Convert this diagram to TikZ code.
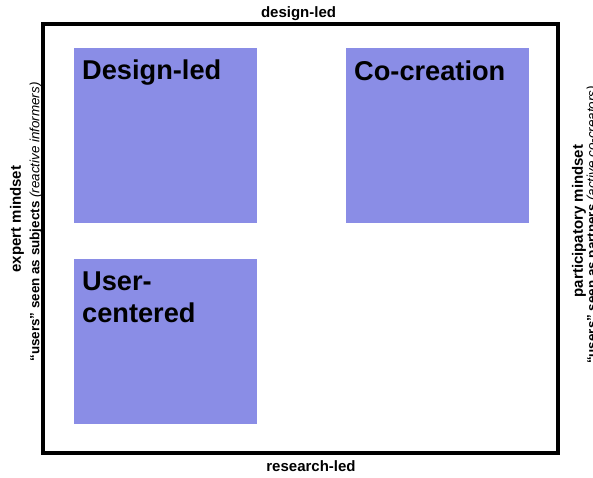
\documentclass[tikz,border=0pt]{standalone}
\usepackage{fontspec}
\setmainfont{Liberation Sans}
\definecolor{quadblue}{RGB}{138,141,230}

\begin{document}
\begin{tikzpicture}[x=1pt,y=-1pt,
   quad/.style={fill=quadblue,draw=none,inner sep=0pt,anchor=north west},
   quadtext/.style={anchor=north west,inner sep=0pt,align=left,
     font=\fontsize{27.2}{32}\selectfont\bfseries},
   axislabel/.style={inner sep=0pt,font=\fontsize{15}{18}\selectfont\bfseries},
   sublabel/.style={inner sep=0pt,font=\fontsize{13.4}{16}\selectfont}]
   \useasboundingbox (0,0) rectangle (593,477);
   % frame
   \node[draw,line width=3.5pt,inner sep=0pt,minimum width=515pt,minimum height=429pt]
     (frame) at (300.5,238.5) {};
   % quadrants
   \node[quad,minimum width=183pt,minimum height=175pt] (designled) at (74,48) {};
   \node[quad,minimum width=183pt,minimum height=175pt] (cocreation) at (346,48) {};
   \node[quad,minimum width=183pt,minimum height=165pt] (usercentered) at (74,259) {};
   \node[quadtext] (designledtext) at ([shift={(8,11.5)}]designled.north west) {Design-led};
   \node[quadtext] (cocreationtext) at ([shift={(8,12.5)}]cocreation.north west) {Co-creation};
   \node[quadtext] (usercenteredtext) at ([shift={(8,13)}]usercentered.north west) {User-\\centered};
   % axis labels
   \node[axislabel,anchor=base] (top) at (298.5,17) {design-led};
   \node[axislabel,anchor=base] (bottom) at (311,471) {research-led};
   \node[axislabel,rotate=90] (expert) at (17,219) {expert mindset};
   \node[sublabel,rotate=90] (expertsub) at (36,222)
     {\textbf{“users” seen as subjects} \textit{(reactive informers)}};
   \node[axislabel,rotate=90] (partic) at (579,221) {participatory mindset};
   \node[sublabel,rotate=90] (particsub) at (593,225)
     {\textbf{“users” seen as partners} \textit{(active co-creators)}};
\end{tikzpicture}
\end{document}
